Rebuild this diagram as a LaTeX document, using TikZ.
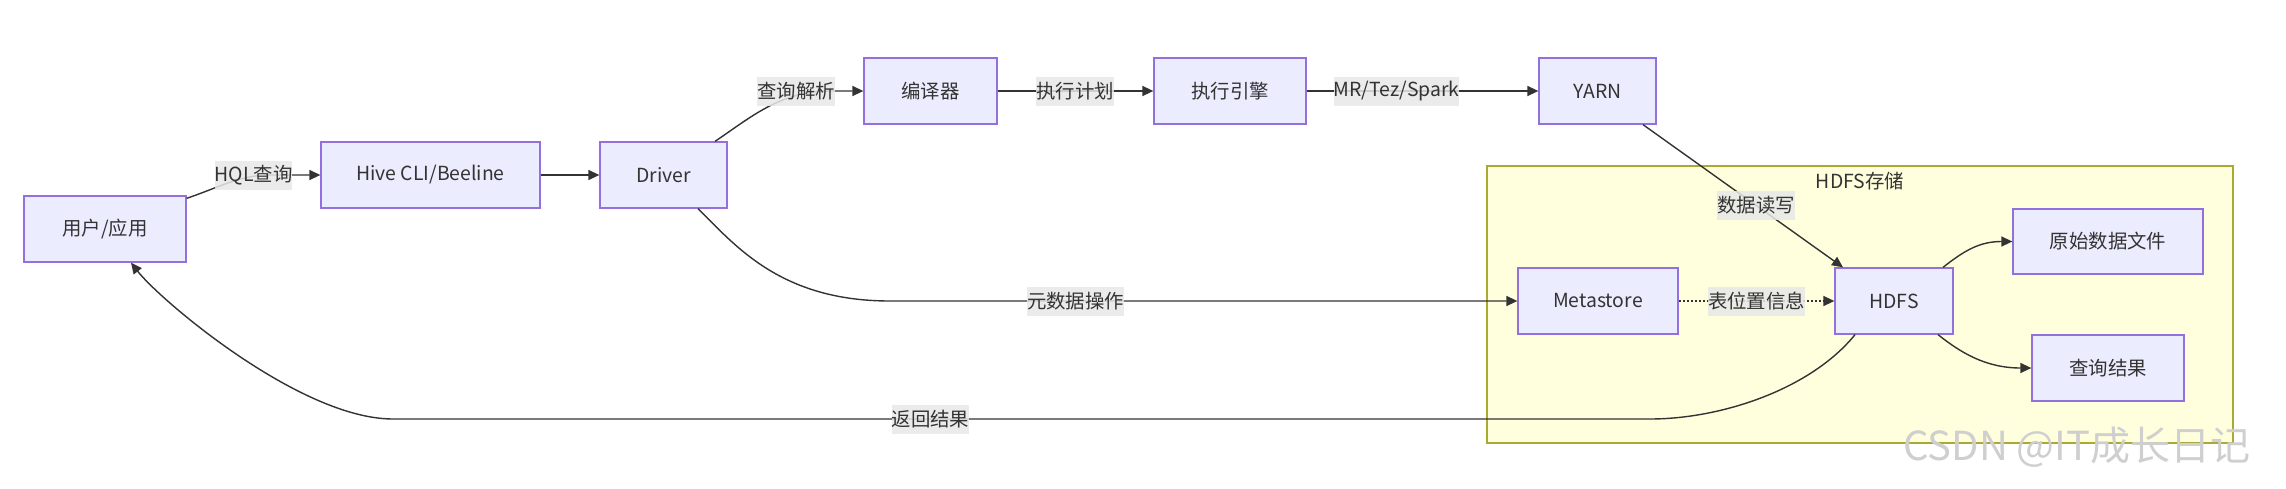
\documentclass[tikz,border=0pt]{standalone}
\usepackage{fontspec}
\setmainfont{Noto Sans CJK SC}
\usetikzlibrary{arrows.meta}
\definecolor{nodefill}{HTML}{ECECFF}
\definecolor{nodeline}{HTML}{9370DB}
\definecolor{edgecol}{HTML}{333333}
\definecolor{lblfill}{HTML}{E8E8E8}
\definecolor{clfill}{HTML}{FFFFDE}
\definecolor{clline}{HTML}{AAAA33}
\definecolor{txt}{HTML}{333333}
\definecolor{wmark}{HTML}{CFCFCF}
\begin{document}
\begin{tikzpicture}[x=1pt,y=-1pt, font=\fontsize{19.4}{22}\selectfont, text=txt,
  box/.style={draw=nodeline, fill=nodefill, line width=1.3pt, inner sep=0pt, anchor=center},
  lbl/.style={fill=lblfill, fill opacity=0.85, text opacity=1, inner sep=0pt, minimum height=29pt},
  link/.style={draw=edgecol, line width=1.4pt, -{Triangle[length=11pt,width=10pt]}},
  cluster/.style={draw=clline, fill=clfill, line width=1.3pt, inner sep=0pt}
]
\useasboundingbox (0,0) rectangle (2286,488);
\fill[white] (0,0) rectangle (2286,488);

% cluster
\node[cluster, minimum width=746pt, minimum height=277pt] (cl) at (1860,304.5) {};
\node[inner sep=0pt] (cltitle) at (1860,181) {HDFS存储};

% nodes
\node[box, minimum width=162pt, minimum height=66pt] (user) at (105,229) {用户/应用};
\node[box, minimum width=219pt, minimum height=66pt] (cli) at (430.5,175) {Hive CLI/Beeline};
\node[box, minimum width=127pt, minimum height=66pt] (drv) at (663.5,175) {Driver};
\node[box, minimum width=133pt, minimum height=66pt] (cmp) at (930.5,91) {编译器};
\node[box, minimum width=152pt, minimum height=66pt] (eng) at (1230,91) {执行引擎};
\node[box, minimum width=117pt, minimum height=66pt] (yarn) at (1597.5,91) {YARN};
\node[box, minimum width=160pt, minimum height=66pt] (meta) at (1598,301) {Metastore};
\node[box, minimum width=118pt, minimum height=66pt] (hdfs) at (1894,301) {HDFS};
\node[box, minimum width=190pt, minimum height=65pt] (raw) at (2108,241.5) {原始数据文件};
\node[box, minimum width=152pt, minimum height=66pt] (res) at (2108,368) {查询结果};

% edges
\draw[link] ([yshift=-3pt]user.north east) .. controls (220,187) and (240,175) .. (270,175) -- (cli.west);
\draw[link] (cli.east) -- (drv.west);
\draw[link] ([xshift=51.5pt]drv.north) .. controls (750,118) and (780,91) .. (830,91) -- (cmp.west);
\draw[link] (cmp.east) -- (eng.west);
\draw[link] (eng.east) -- (yarn.west);
\draw[link] ([xshift=45.5pt]yarn.south) -- ([xshift=-51pt]hdfs.north);
\draw[link] ([xshift=34.5pt]drv.south) .. controls (735,245) and (780,301) .. (890,301) -- (meta.west);
\draw[link, dash pattern=on 2pt off 2pt] (meta.east) -- (hdfs.west);
\draw[link] ([xshift=49pt]hdfs.north) .. controls (1965,250) and (1980,241.5) .. (raw.west);
\draw[link] ([xshift=44pt]hdfs.south) .. controls (1960,352) and (1985,368) .. (res.west);
\draw[link] ([xshift=-39pt]hdfs.south) .. controls (1810,390) and (1720,419) .. (1650,419) -- (393,419) .. controls (300,419) and (160,300) .. ([xshift=26pt]user.south);

% edge labels
\node[lbl] (l1) at (253.5,175) {HQL查询};
\node[lbl] (l2) at (796,91) {查询解析};
\node[lbl] (l3) at (1075,91) {执行计划};
\node[lbl] (l4) at (1396.5,91) {MR/Tez/Spark};
\node[lbl] (l5) at (1756,205) {数据读写};
\node[lbl] (l6) at (1075.5,301) {元数据操作};
\node[lbl] (l7) at (1756.5,301) {表位置信息};
\node[lbl] (l8) at (930.5,419) {返回结果};

% watermark
\node[text=wmark, font=\fontsize{40}{40}\selectfont, anchor=base west, inner sep=0pt] (wm) at (1903,460) {CSDN @IT成长日记};
\end{tikzpicture}
\end{document}
